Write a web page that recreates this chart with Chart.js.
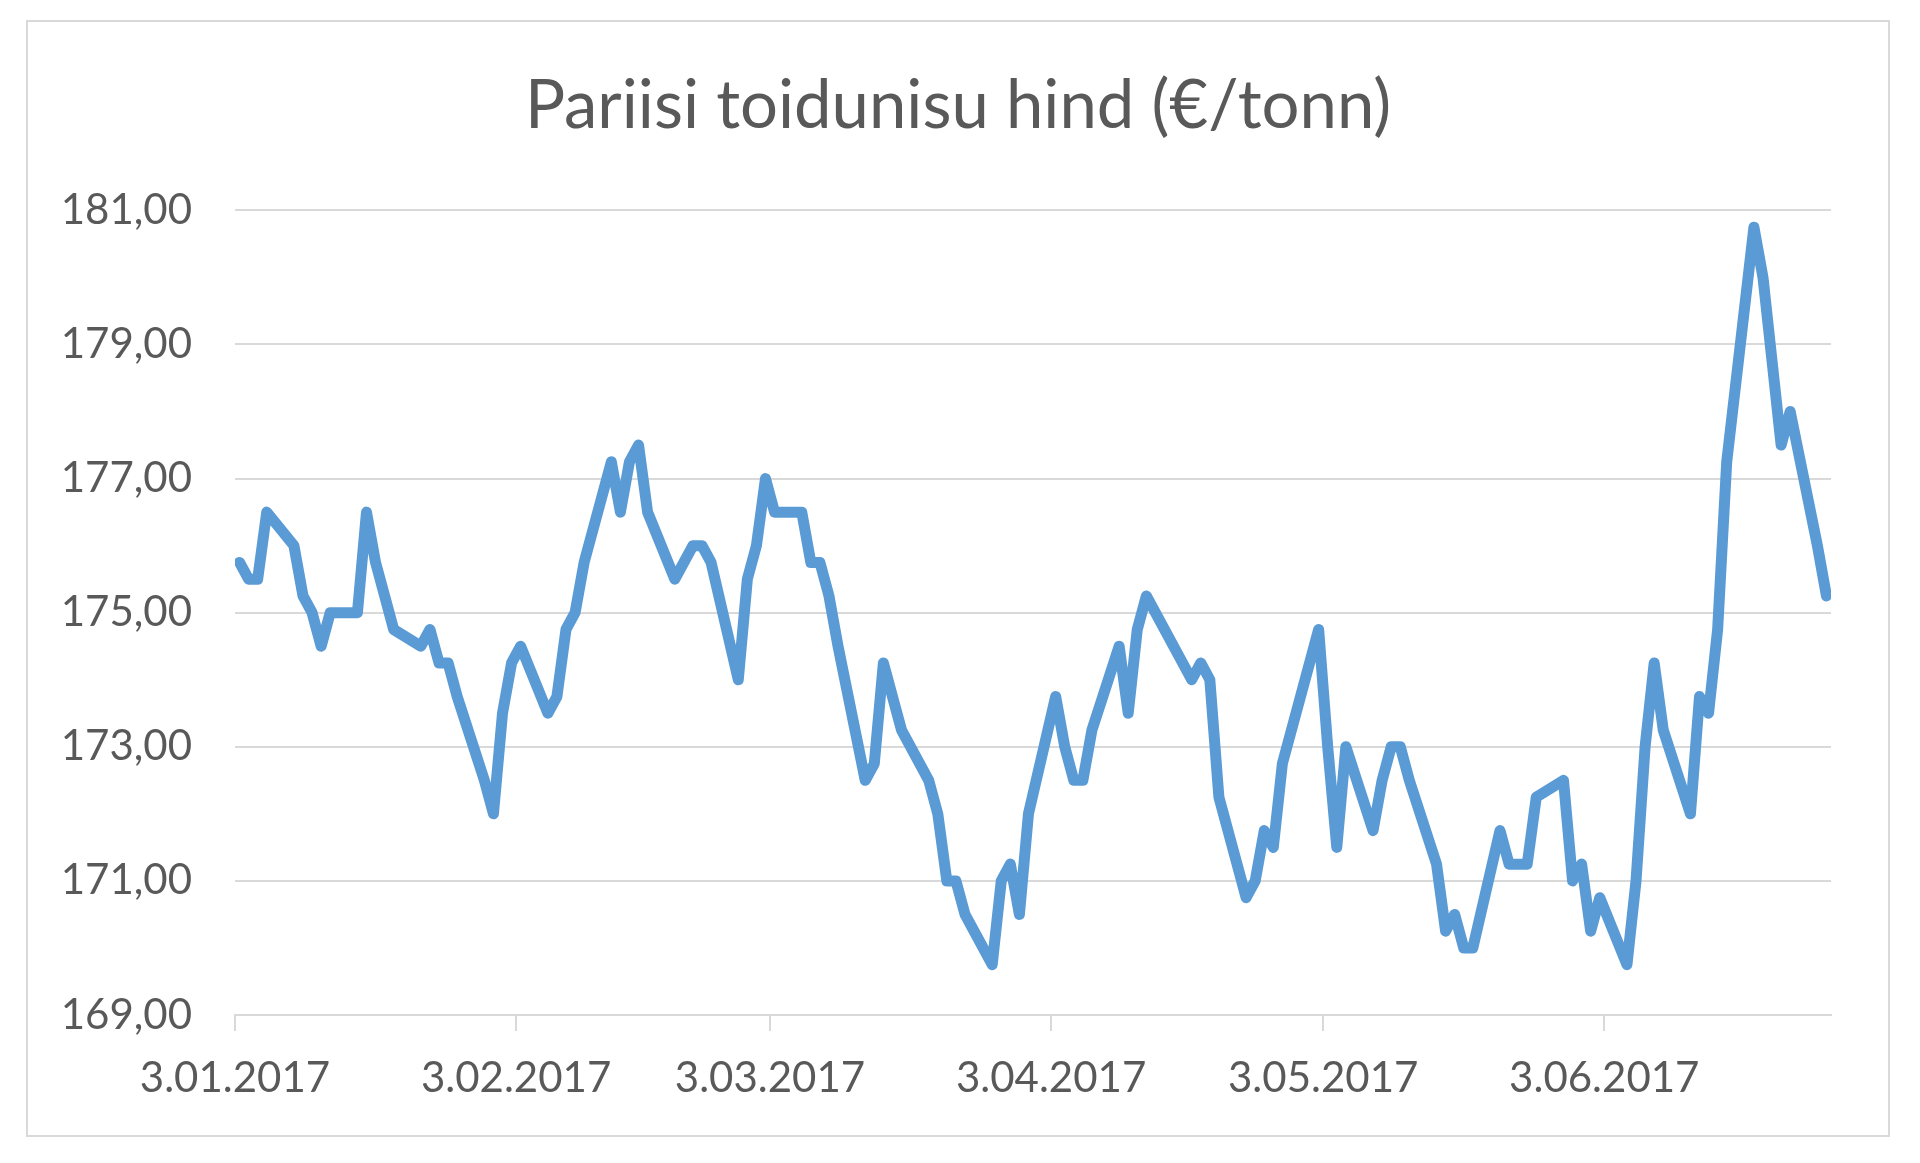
<!DOCTYPE html>
<html>
<head>
<meta charset="utf-8">
<script src="https://cdn.jsdelivr.net/npm/chart.js@4.4.1/dist/chart.umd.min.js"></script>
<style>
  html, body { margin: 0; padding: 0; background: #ffffff; }
  #frame {
    position: absolute; left: 26px; top: 20px;
    width: 1864px; height: 1117px;
    box-sizing: border-box; border: 2px solid #d9d9d9; background: #fff;
  }
  #chart { display: block; }
</style>
</head>
<body>
<div id="frame"><canvas id="chart" width="1860" height="1113"></canvas></div>
<script>
// trading days (Euronext), price in EUR/t
const dates = [
  '2017-01-03','2017-01-04','2017-01-05','2017-01-06',
  '2017-01-09','2017-01-10','2017-01-11','2017-01-12','2017-01-13',
  '2017-01-16','2017-01-17','2017-01-18','2017-01-19','2017-01-20',
  '2017-01-23','2017-01-24','2017-01-25','2017-01-26','2017-01-27',
  '2017-01-30','2017-01-31','2017-02-01','2017-02-02','2017-02-03',
  '2017-02-06','2017-02-07','2017-02-08','2017-02-09','2017-02-10',
  '2017-02-13','2017-02-14','2017-02-15','2017-02-16','2017-02-17',
  '2017-02-20','2017-02-21','2017-02-22','2017-02-23','2017-02-24',
  '2017-02-27','2017-02-28','2017-03-01','2017-03-02','2017-03-03',
  '2017-03-06','2017-03-07','2017-03-08','2017-03-09','2017-03-10',
  '2017-03-13','2017-03-14','2017-03-15','2017-03-16','2017-03-17',
  '2017-03-20','2017-03-21','2017-03-22','2017-03-23','2017-03-24',
  '2017-03-27','2017-03-28','2017-03-29','2017-03-30','2017-03-31',
  '2017-04-03','2017-04-04','2017-04-05','2017-04-06','2017-04-07',
  '2017-04-10','2017-04-11','2017-04-12','2017-04-13',
  '2017-04-18','2017-04-19','2017-04-20','2017-04-21',
  '2017-04-24','2017-04-25','2017-04-26','2017-04-27','2017-04-28',
  '2017-05-02','2017-05-03','2017-05-04','2017-05-05',
  '2017-05-08','2017-05-09','2017-05-10','2017-05-11','2017-05-12',
  '2017-05-15','2017-05-16','2017-05-17','2017-05-18','2017-05-19',
  '2017-05-22','2017-05-23','2017-05-24','2017-05-25','2017-05-26',
  '2017-05-29','2017-05-30','2017-05-31','2017-06-01','2017-06-02',
  '2017-06-05','2017-06-06','2017-06-07','2017-06-08','2017-06-09',
  '2017-06-12','2017-06-13','2017-06-14','2017-06-15','2017-06-16',
  '2017-06-19','2017-06-20','2017-06-21','2017-06-22','2017-06-23',
  '2017-06-26','2017-06-27'
];
const prices = [
  175.75, 175.5, 175.5, 176.5,
  176.0, 175.25, 175.0, 174.5, 175.0,
  175.0, 176.5, 175.75, 175.25, 174.75,
  174.5, 174.75, 174.25, 174.25, 173.75,
  172.5, 172.0, 173.5, 174.25, 174.5,
  173.5, 173.75, 174.75, 175.0, 175.75,
  177.25, 176.5, 177.25, 177.5, 176.5,
  175.5, 175.75, 176.0, 176.0, 175.75,
  174.0, 175.5, 176.0, 177.0, 176.5,
  176.5, 175.75, 175.75, 175.25, 174.5,
  172.5, 172.75, 174.25, 173.75, 173.25,
  172.5, 172.0, 171.0, 171.0, 170.5,
  169.75, 171.0, 171.25, 170.5, 172.0,
  173.75, 173.0, 172.5, 172.5, 173.25,
  174.5, 173.5, 174.75, 175.25,
  174.0, 174.25, 174.0, 172.25,
  170.75, 171.0, 171.75, 171.5, 172.75,
  174.75, 173.0, 171.5, 173.0,
  171.75, 172.5, 173.0, 173.0, 172.5,
  171.25, 170.25, 170.5, 170.0, 170.0,
  171.75, 171.25, 171.25, 171.25, 172.25,
  172.5, 171.0, 171.25, 170.25, 170.75,
  169.75, 171.0, 173.0, 174.25, 173.25,
  172.0, 173.75, 173.5, 174.75, 177.25,
  180.75, 180.0, 178.75, 177.5, 178.0,
  176.0, 175.25
];

const tickDates = ['2017-01-03','2017-02-03','2017-03-03','2017-04-03','2017-05-03','2017-06-03'];
const tickLabels = ['3.01.2017','3.02.2017','3.03.2017','3.04.2017','3.05.2017','3.06.2017'];

const Y_MIN = 169, Y_MAX = 181, Y_STEP = 2;

const DAY = 86400000;
const t0 = Date.parse( dates[ 0 ] );
const dayIndex = ( iso ) => Math.round( ( Date.parse( iso ) - t0 ) / DAY );

// excel date axis: each day is a slot, the point sits in the middle of it
const points = dates.map( ( d, i ) => ( { x: dayIndex( d ) + 0.5, y: prices[ i ] } ) );
const tickDays = tickDates.map( dayIndex );
const xMax = dayIndex( dates[ dates.length - 1 ] ) + 1;

const grey = '#d9d9d9';
const textCol = '#595959';
const FONT = 'Lato, "Open Sans", sans-serif';

// title is centred on the whole frame, not on axis + plot area
const centreTitle = {
    id: 'centreTitle',
    afterLayout ( chart ) {
        const t = chart.titleBlock;
        if ( !t ) return;
        t.left = 0;
        t.right = chart.width;
        t.width = chart.width;
    }
};

new Chart( document.getElementById( 'chart' ), {
    type: 'line',
    data: {
        datasets: [ {
            data: points,
            borderColor: '#5b9bd5',
            borderWidth: 11,
            borderJoinStyle: 'round',
            borderCapStyle: 'round',
            pointRadius: 0,
            tension: 0,
            fill: false
        } ]
    },
    options: {
        responsive: false,
        animation: false,
        layout: { padding: { left: 0, right: 57, top: 0, bottom: 0 } },
        plugins: {
            legend: { display: false },
            tooltip: { enabled: false },
            title: {
                display: true,
                text: 'Pariisi toidunisu hind (€/tonn)',
                color: textCol,
                font: { family: FONT, size: 67, weight: 'normal', lineHeight: 1.2 },
                padding: { top: 44, bottom: 64 }
            }
        },
        scales: {
            x: {
                type: 'linear',
                min: 0,
                max: xMax,
                afterBuildTicks: ( axis ) => { axis.ticks = tickDays.map( v => ( { value: v } ) ); },
                afterFit: ( axis ) => { axis.height = 120; },
                ticks: {
                    autoSkip: false,
                    maxRotation: 0,
                    color: textCol,
                    padding: 22,
                    font: { family: FONT, size: 42 },
                    callback: ( v ) => tickLabels[ tickDays.indexOf( v ) ] ?? ''
                },
                grid: { drawOnChartArea: false, drawTicks: true, tickLength: 16, color: grey, lineWidth: 2 },
                border: { display: true, color: grey, width: 2 }
            },
            y: {
                min: Y_MIN,
                max: Y_MAX,
                afterFit: ( axis ) => { axis.width = 207; },
                ticks: {
                    stepSize: Y_STEP,
                    color: textCol,
                    padding: 43,
                    font: { family: FONT, size: 42 },
                    callback: ( v ) => v.toFixed( 2 ).replace( '.', ',' )
                },
                grid: { color: grey, lineWidth: 2, drawTicks: false },
                border: { display: false }
            }
        }
    },
    plugins: [ centreTitle ]
} );
</script>
</body>
</html>
